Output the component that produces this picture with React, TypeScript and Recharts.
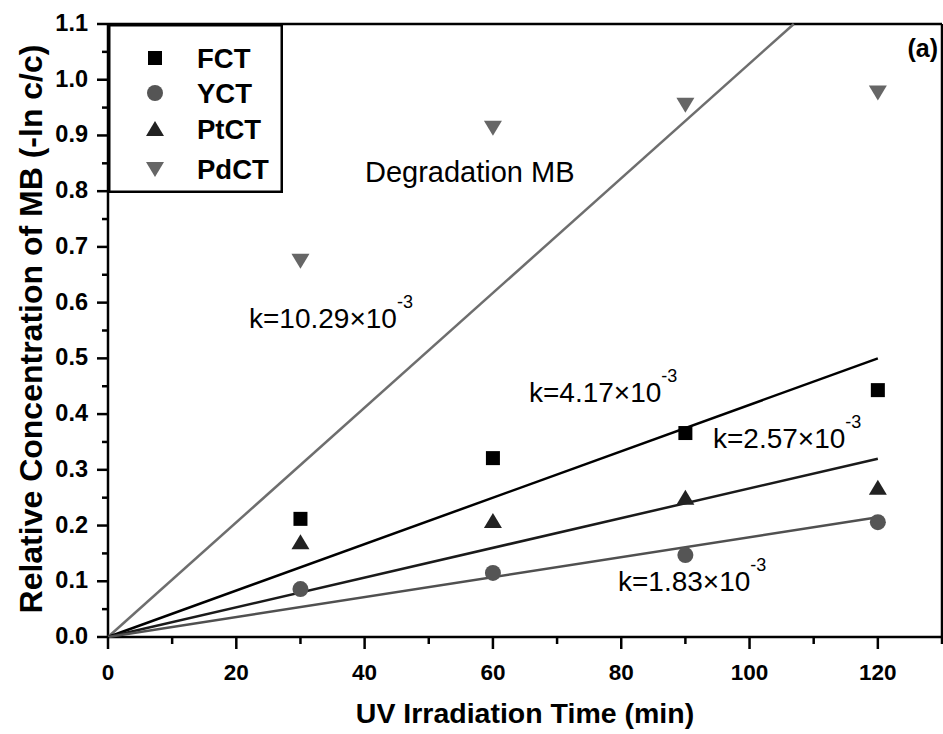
import React from "react"
import { Legend, ReferenceLine, Scatter, ScatterChart, XAxis, YAxis } from "recharts"

const FONT = "'Liberation Sans', Arial, sans-serif"

// irradiation times (min)
const times = [30, 60, 90, 120]

// -ln(c/c0)
const fct = [0.212, 0.321, 0.366, 0.443]
const yct = [0.086, 0.115, 0.147, 0.206]
const ptct = [0.17, 0.208, 0.25, 0.268]
const pdct = [0.675, 0.914, 0.955, 0.977]

// fitted lines, end points
const fitFct = [{ x: 0, y: 0 }, { x: 120, y: 0.5 }]
const fitYct = [{ x: 0, y: 0 }, { x: 120, y: 0.215 }]
const fitPtct = [{ x: 0, y: 0 }, { x: 120, y: 0.32 }]
const fitPdct = [{ x: 0, y: 0 }, { x: 106.9, y: 1.1 }]

const xTicks = [0, 10, 20, 30, 40, 50, 60, 70, 80, 90, 100, 110, 120, 130]
const yTicks = [
  0, 0.05, 0.1, 0.15, 0.2, 0.25, 0.3, 0.35, 0.4, 0.45, 0.5, 0.55, 0.6, 0.65, 0.7, 0.75, 0.8, 0.85,
  0.9, 0.95, 1.0, 1.05, 1.1,
]

const toPoints = (vals: number[]) => times.map((t, i) => ({ x: t, y: vals[i] }))

const series = [
  { name: "FCT", values: fct, color: "#000000", marker: "square" },
  { name: "YCT", values: yct, color: "#555555", marker: "circle" },
  { name: "PtCT", values: ptct, color: "#222222", marker: "triangle" },
  { name: "PdCT", values: pdct, color: "#666666", marker: "down" },
]

const fits = [
  { data: fitPdct, color: "#6e6e6e" },
  { data: fitFct, color: "#000000" },
  { data: fitPtct, color: "#1a1a1a" },
  { data: fitYct, color: "#505050" },
]

const annotations = [
  { text: "k=10.29\u00d710", x: 249, y: 328 },
  { text: "k=4.17\u00d710", x: 529, y: 402 },
  { text: "k=2.57\u00d710", x: 713, y: 448 },
  { text: "k=1.83\u00d710", x: 618, y: 591 },
]

function Marker({ kind, cx, cy, color }: { kind: string; cx: number; cy: number; color: string }) {
  if (kind === "square") return <rect x={cx - 7} y={cy - 7} width={14} height={14} fill={color} />
  if (kind === "circle") return <circle cx={cx} cy={cy} r={8} fill={color} />
  if (kind === "triangle")
    return <polygon points={`${cx - 9},${cy + 7} ${cx + 9},${cy + 7} ${cx},${cy - 8}`} fill={color} />
  return <polygon points={`${cx - 9},${cy - 7} ${cx + 9},${cy - 7} ${cx},${cy + 8}`} fill={color} />
}

const XTick = (props: any) => {
  const { x, y, payload } = props
  const v = payload.value
  const major = v % 20 === 0
  return (
    <g>
      <line x1={x} x2={x} y1={y} y2={y + (major ? 12 : 7)} stroke="#000" strokeWidth={2.5} />
      {major && v <= 120 && (
        <text x={x} y={y + 43} textAnchor="middle" fontFamily={FONT} fontWeight="bold" fontSize={22.5} fill="#000">
          {v}
        </text>
      )}
    </g>
  )
}

const YTick = (props: any) => {
  const { x, y, payload } = props
  const v = payload.value
  const major = Math.round(v * 100) % 10 === 0
  return (
    <g>
      <line x1={x - (major ? 11 : 6)} x2={x} y1={y} y2={y} stroke="#000" strokeWidth={2.5} />
      {major && (
        <text x={x - 20} y={y + 7} textAnchor="end" fontFamily={FONT} fontWeight="bold" fontSize={23.5} fill="#000">
          {v.toFixed(1)}
        </text>
      )}
    </g>
  )
}

function LegendBox() {
  const rowsY = [34, 69, 105, 145]
  return (
    <svg width={175} height={169} style={{ display: "block" }}>
      <rect x={1.25} y={1.25} width={172.5} height={166.5} fill="#fff" stroke="#000" strokeWidth={2.5} />
      {series.map((s, i) => (
        <g key={s.name}>
          <Marker kind={s.marker} cx={47} cy={rowsY[i]} color={s.color} />
          <text x={89} y={rowsY[i] + 10} fontFamily={FONT} fontWeight="bold" fontSize={27.5} fill="#000">
            {s.name}
          </text>
        </g>
      ))}
    </svg>
  )
}

export default function App() {
  return (
    <div style={{ position: "absolute", left: 0, top: 0, width: 943, height: 734, background: "#fff" }}>
      <ScatterChart width={943} height={734} margin={{ top: 24, right: 1, left: 0, bottom: 0 }}>
        <XAxis
          type="number"
          dataKey="x"
          domain={[0, 130]}
          ticks={xTicks}
          interval={0}
          height={97}
          tickSize={0}
          tickMargin={0}
          tickLine={false}
          tick={<XTick />}
          axisLine={{ stroke: "#000", strokeWidth: 2.5 }}
          label={{
            content: () => (
              <text x={525} y={723} textAnchor="middle" fontFamily={FONT} fontWeight="bold" fontSize={28.5} fill="#000">
                UV Irradiation Time (min)
              </text>
            ),
          }}
        />
        <YAxis
          type="number"
          dataKey="y"
          domain={[0, 1.1]}
          ticks={yTicks}
          interval={0}
          width={108}
          tickSize={0}
          tickMargin={0}
          tickLine={false}
          tick={<YTick />}
          axisLine={{ stroke: "#000", strokeWidth: 2.5 }}
          label={{
            content: () => (
              <text
                x={31}
                y={329}
                transform="rotate(-90 31 329)"
                textAnchor="middle"
                dominantBaseline="central"
                fontFamily={FONT}
                fontWeight="bold"
                fontSize={32}
                fill="#000"
              >
                Relative Concentration of MB (-ln c/c)
              </text>
            ),
          }}
        />
        <ReferenceLine y={1.1} stroke="#000" strokeWidth={2.5} />
        <ReferenceLine x={130} stroke="#000" strokeWidth={2.5} />
        {fits.map((f, i) => (
          <Scatter
            key={`fit${i}`}
            data={f.data}
            line={{ stroke: f.color, strokeWidth: 2.5 }}
            shape={() => <g />}
            legendType="none"
            isAnimationActive={false}
          />
        ))}
        {series.map((s) => (
          <Scatter
            key={s.name}
            name={s.name}
            data={toPoints(s.values)}
            fill={s.color}
            shape={(p: any) => <Marker kind={s.marker} cx={p.cx} cy={p.cy} color={s.color} />}
            isAnimationActive={false}
          />
        ))}
        <Legend
          layout="vertical"
          align="center"
          verticalAlign="middle"
          wrapperStyle={{ left: 108, top: 24, width: 175, height: 169 }}
          content={() => <LegendBox />}
        />
      </ScatterChart>
      <svg
        width={943}
        height={734}
        style={{ position: "absolute", left: 0, top: 0, pointerEvents: "none" }}
      >
        <text x={365} y={182} fontFamily={FONT} fontSize={29} fill="#000">
          Degradation MB
        </text>
        {annotations.map((a) => (
          <text key={a.text} x={a.x} y={a.y} fontFamily={FONT} fontSize={28} fill="#000">
            {a.text}
            <tspan fontSize={18} dy={-20}>
              -3
            </tspan>
          </text>
        ))}
        <text x={938} y={57} textAnchor="end" fontFamily={FONT} fontWeight="bold" fontSize={25} fill="#000">
          (a)
        </text>
      </svg>
    </div>
  )
}
